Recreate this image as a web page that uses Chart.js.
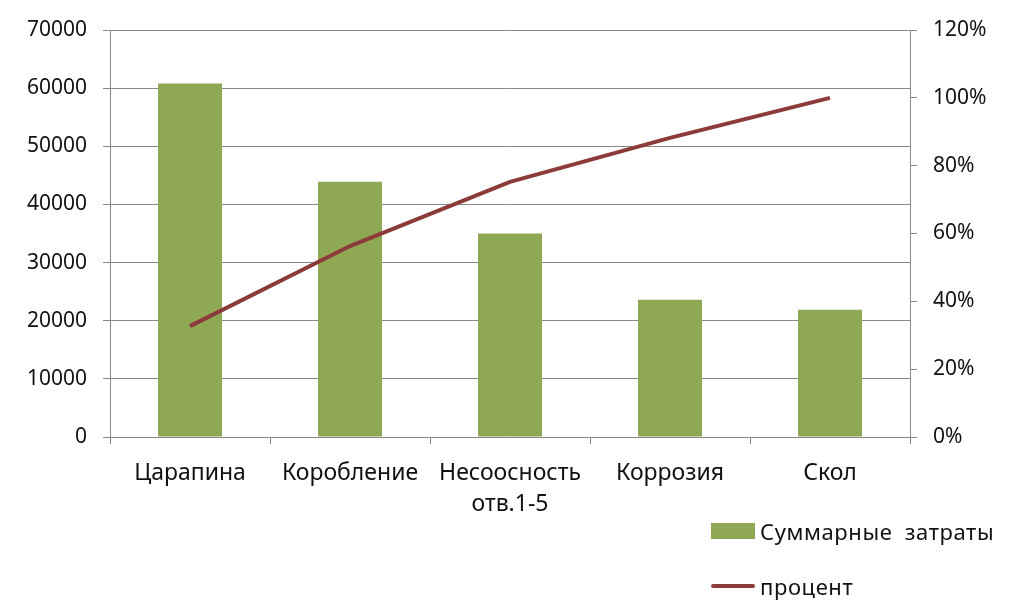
<!DOCTYPE html>
<html>
<head>
<meta charset="utf-8">
<script src="https://cdn.jsdelivr.net/npm/chart.js@4"></script>
<style>
  html, body { margin: 0; padding: 0; background: #fff; }
  #wrap { position: relative; width: 1020px; height: 614px; }
  .legend { position: absolute; left: 711px; font: 22px "Noto Sans", sans-serif; color: #111; display: flex; align-items: center; }
  .legend .box { width: 44px; height: 16px; background: #8ea853; margin-right: 5px; }
  .legend .ln { width: 44px; height: 4px; background: #8c3b3b; border-radius: 2px; margin-right: 5px; }
</style>
</head>
<body>
<div id="wrap">
  <canvas id="paretoChart" width="1020" height="614"></canvas>
  <div class="legend" style="top:516px; word-spacing: 6px; letter-spacing: 0.6px"><span class="box"></span>Суммарные затраты</div>
  <div class="legend" style="top:571px; letter-spacing: 0.6px"><span class="ln"></span>процент</div>
</div>
<script>
const categories = ['Царапина', 'Коробление', ['Несоосность', 'отв.1-5'], 'Коррозия', 'Скол']
const costs = [60800, 43900, 35000, 23600, 21900]
const percents = [32.7, 56.3, 75.2, 88.2, 100]

const tickFont = { family: '"Noto Sans", sans-serif', size: 21 }
const labelFont = { family: '"Noto Sans", sans-serif', size: 23, lineHeight: 1.35 }

new Chart(document.getElementById('paretoChart'), {
  data: {
    labels: categories,
    datasets: [
      {
        type: 'line',
        label: 'процент',
        data: percents,
        yAxisID: 'y1',
        borderColor: '#8c3b3b',
        borderWidth: 4,
        pointRadius: 0,
        tension: 0,
        order: 0
      },
      {
        type: 'bar',
        label: 'Суммарные затраты',
        data: costs,
        yAxisID: 'y',
        backgroundColor: '#8ea853',
        categoryPercentage: 1,
        barPercentage: 0.4,
        order: 1
      }
    ]
  },
  options: {
    responsive: false,
    animation: false,
    layout: { padding: { top: 30, left: 0, right: 0, bottom: 0 } },
    plugins: {
      legend: { display: false },
      tooltip: { enabled: false }
    },
    scales: {
      x: {
        offset: true,
        grid: { offset: true, drawOnChartArea: false, drawTicks: true, tickLength: 7, color: '#888' },
        border: { color: '#888' },
        ticks: { font: labelFont, color: '#111', padding: 14, maxRotation: 0 },
        afterFit: s => { s.height = 177 }
      },
      y: {
        position: 'left',
        min: 0,
        max: 70000,
        grid: { color: '#888', tickLength: 7 },
        border: { color: '#888' },
        ticks: { stepSize: 10000, font: tickFont, color: '#111', padding: 16, callback: v => String(v) },
        afterFit: s => { s.width = 110 }
      },
      y1: {
        position: 'right',
        min: 0,
        max: 120,
        grid: { drawOnChartArea: false, tickLength: 7, color: '#888' },
        border: { color: '#888' },
        ticks: { stepSize: 20, font: tickFont, color: '#111', padding: 16, callback: v => v + '%' },
        afterFit: s => { s.width = 110 }
      }
    }
  }
})
</script>
</body>
</html>
